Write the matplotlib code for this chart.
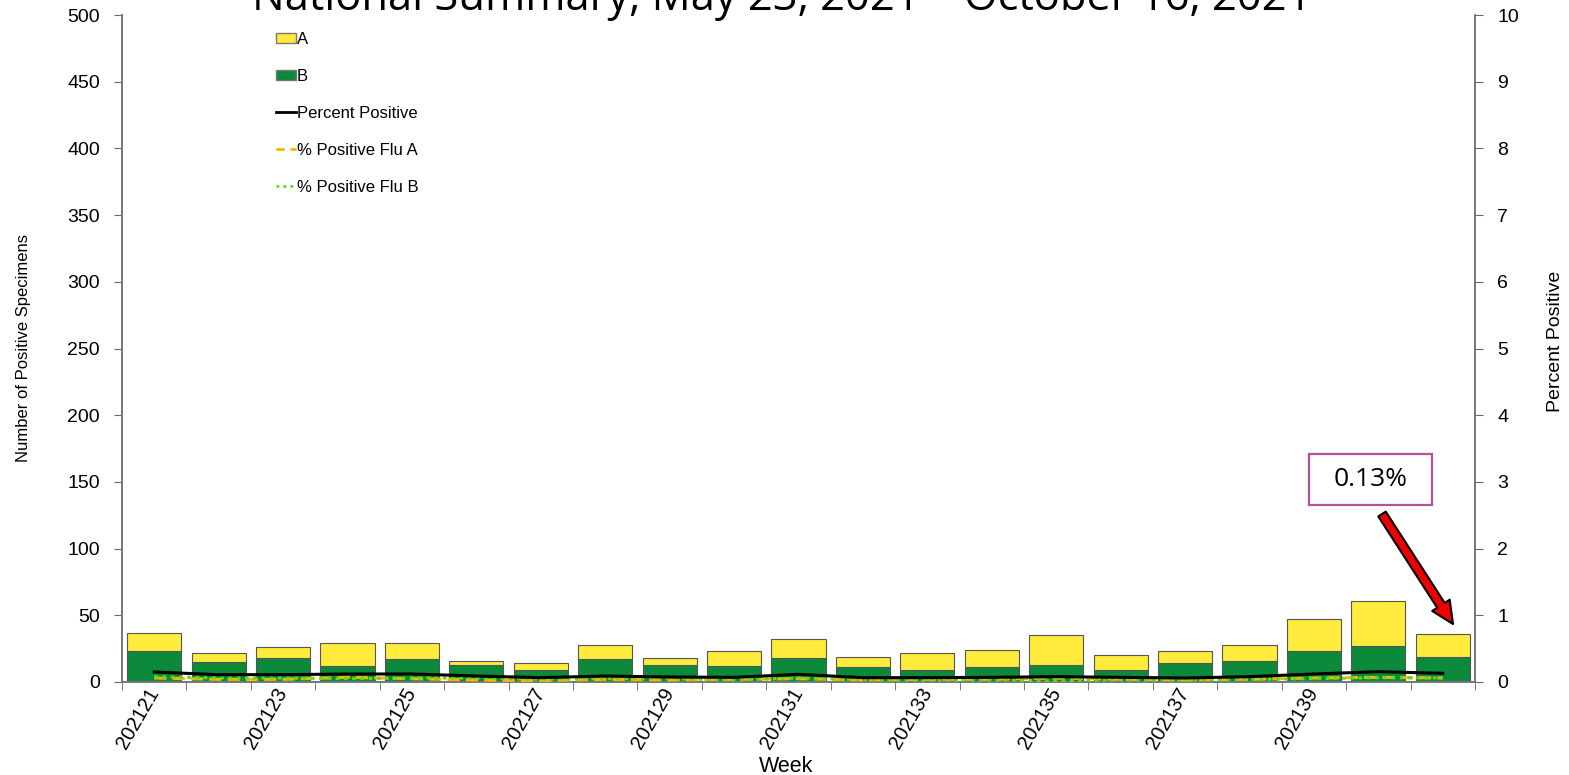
import matplotlib
matplotlib.use("Agg")
import matplotlib.pyplot as plt
import matplotlib.patches as mpatches
from matplotlib.lines import Line2D
import numpy as np

weeks = ["202121", "202122", "202123", "202124", "202125", "202126", "202127",
         "202128", "202129", "202130", "202131", "202132", "202133", "202134",
         "202135", "202136", "202137", "202138", "202139", "202140", "202141"]
total_pos = [37, 22, 26, 29, 29, 16, 14, 28, 18, 23, 32, 19, 22, 24, 35, 20, 23, 28, 47, 61, 36]
flu_b = [23, 15, 18, 12, 17, 13, 9, 17, 13, 12, 18, 11, 9, 11, 13, 9, 14, 16, 23, 27, 19]
flu_a = [t - b for t, b in zip(total_pos, flu_b)]
pct_pos = [0.15, 0.11, 0.11, 0.12, 0.12, 0.09, 0.065, 0.09, 0.075, 0.07, 0.115,
           0.065, 0.065, 0.07, 0.08, 0.07, 0.06, 0.08, 0.12, 0.155, 0.13]
pct_a = [0.06, 0.04, 0.04, 0.07, 0.05, 0.03, 0.02, 0.04, 0.03, 0.04, 0.05,
         0.03, 0.04, 0.04, 0.06, 0.04, 0.03, 0.04, 0.06, 0.07, 0.06]
pct_b = [0.08, 0.06, 0.06, 0.05, 0.06, 0.06, 0.04, 0.05, 0.05, 0.03, 0.06,
         0.035, 0.025, 0.03, 0.02, 0.03, 0.03, 0.04, 0.05, 0.065, 0.06]
title = "National Summary, May 23, 2021 \u2013 October 16, 2021"

W, H = 1569, 775
fig = plt.figure(figsize=(W / 100, H / 100), dpi=100)
ax = fig.add_axes([122 / W, 1 - 682 / H, (1475 - 122) / W, (682 - 15) / H])
ax2 = ax.twinx()

x = np.arange(len(weeks))
yellow = "#FFEB3B"
green = "#0A8A3A"
ax.bar(x, flu_b, width=0.84, color=green, edgecolor="#555555", linewidth=0.8, label="B", zorder=2)
ax.bar(x, flu_a, bottom=flu_b, width=0.84, color=yellow, edgecolor="#555555", linewidth=0.8, label="A", zorder=2)

ax2.plot(x, pct_a, color="#F2B705", linestyle=(0, (4, 2)), linewidth=2.2, zorder=3)
ax2.plot(x, pct_b, color="#55DD22", linestyle=(0, (1.2, 1.5)), linewidth=2.2, zorder=3)
ax2.plot(x, pct_pos, color="black", linewidth=2.2, zorder=4)

ax.set_xlim(-0.5, len(weeks) - 0.5)
ax.set_ylim(0, 500)
ax2.set_ylim(0, 10)
ax.set_yticks(np.arange(0, 501, 50))
ax2.set_yticks(np.arange(0, 11, 1))

tick_font = dict(family="Liberation Sans", size=14)
ax.set_yticklabels([str(v) for v in range(0, 501, 50)], **tick_font)
ax2.set_yticklabels([str(v) for v in range(0, 11)], **tick_font)

ax.set_xticks(x[:20:2])
ax.set_xticklabels(weeks[:20:2], rotation=60, ha="right", va="center",
                   rotation_mode="anchor", family="Liberation Sans", size=14.5)
ax.set_xticks(np.arange(-0.5, len(weeks), 1), minor=True)
ax.tick_params(axis="x", which="major", length=0, pad=5)
ax.tick_params(axis="x", which="minor", length=6, color="#666666", direction="out")
ax.tick_params(axis="y", length=6, color="#666666", pad=10)
ax2.tick_params(axis="y", length=6, color="#666666", pad=10)

for a in (ax, ax2):
    a.spines["top"].set_visible(False)
    for s in ("left", "right", "bottom"):
        a.spines[s].set_color("#777777")
        a.spines[s].set_linewidth(1.2)

ax.set_ylabel("Number of Positive Specimens", family=["Liberation Sans Narrow", "Liberation Sans"],
              size=12)
ax.yaxis.set_label_coords(-0.067, 0.5)
ax2.set_ylabel("Percent Positive", family=["Liberation Sans Narrow", "Liberation Sans"], size=14)
ax2.yaxis.set_label_coords(1.053, 0.51)
ax.set_xlabel("Week", family="Liberation Sans", size=15.5)
ax.xaxis.set_label_coords(0.491, -0.111)

handles = [
    mpatches.Patch(facecolor=yellow, edgecolor="#777777", label="A"),
    mpatches.Patch(facecolor=green, edgecolor="#777777", label="B"),
    Line2D([], [], color="black", linewidth=2, label="Percent Positive"),
    Line2D([], [], color="#F2B705", linestyle=(0, (3, 2)), linewidth=2, label="% Positive Flu A"),
    Line2D([], [], color="#55DD22", linestyle=(0, (1, 1.5)), linewidth=2, label="% Positive Flu B"),
]
leg = ax.legend(handles=handles, loc="upper left", bbox_to_anchor=(0.109, 0.985), frameon=False,
                prop=dict(family="Liberation Sans", size=12), handlelength=1.2, handleheight=0.6,
                handletextpad=0.05, labelspacing=1.32, borderaxespad=0)

fig.text(782 / W, 1 - 10 / H, title, ha="center", va="baseline",
         family="Open Sans", size=31.3)

# annotation box
rect = mpatches.Rectangle((1309 / W, 1 - 505 / H), 123 / W, 51 / H, transform=fig.transFigure,
                          facecolor="white", edgecolor="#B5519A", linewidth=1.6, zorder=10)
fig.patches.append(rect)
fig.text(1370.5 / W, 1 - 480 / H, "0.13%", ha="center", va="center", family="Open Sans",
         size=19, zorder=11)
ax2.annotate("", xy=(1453, H - 624), xytext=(1382, H - 514), xycoords="figure pixels",
             textcoords="figure pixels",
             arrowprops=dict(arrowstyle="simple,head_length=0.8,head_width=0.75,tail_width=0.32",
                             fc="#EE0000", ec="black", lw=1.5, mutation_scale=20,
                             shrinkA=0, shrinkB=0), annotation_clip=False)

fig.savefig("out.png", dpi=100)
